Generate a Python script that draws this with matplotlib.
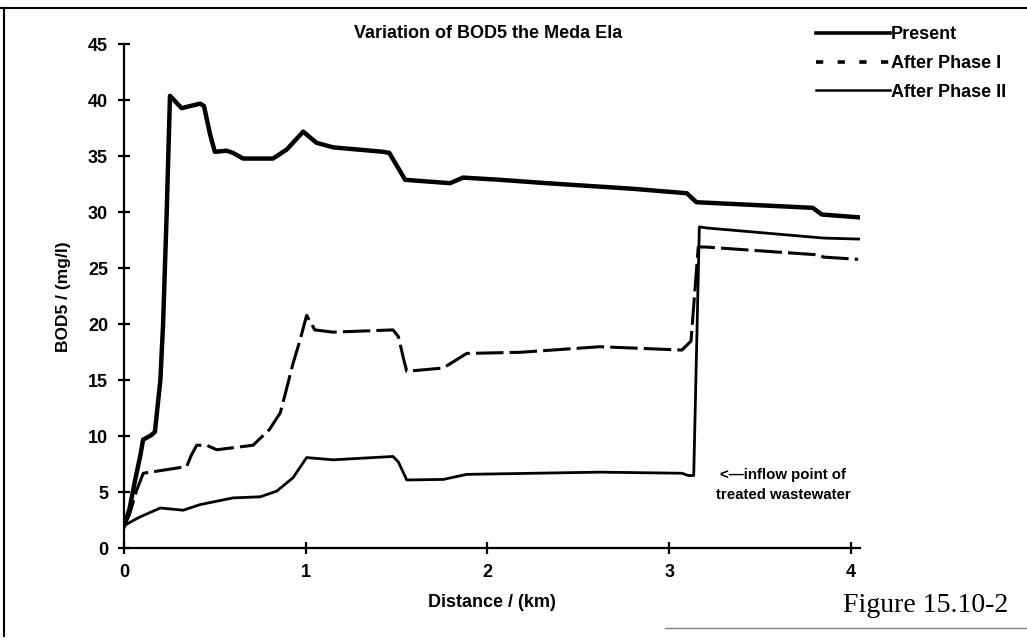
import matplotlib.pyplot as plt
from matplotlib.lines import Line2D
import numpy as np

plt.rcParams["font.family"] = ["Liberation Sans", "DejaVu Sans"]

# Present
x_present = [0.0, 0.03, 0.06, 0.09, 0.105, 0.15, 0.17, 0.2, 0.215, 0.235, 0.253,
             0.317, 0.418, 0.44, 0.473, 0.5, 0.565, 0.6, 0.655, 0.82, 0.895, 0.986,
             1.06, 1.15, 1.427, 1.46, 1.547, 1.794, 1.866, 2.07, 2.326, 2.80, 3.097,
             3.15, 3.79, 3.84, 4.045]
y_present = [2.0, 3.5, 6.0, 8.3, 9.7, 10.1, 10.4, 15.0, 20.0, 30.0, 40.4,
             39.3, 39.7, 39.5, 37.0, 35.4, 35.5, 35.3, 34.8, 34.8, 35.6, 37.2,
             36.2, 35.8, 35.4, 35.3, 32.9, 32.6, 33.1, 32.9, 32.6, 32.1, 31.7,
             30.9, 30.4, 29.8, 29.55]

# After Phase I
x_phase1 = [0.0, 0.03, 0.07, 0.106, 0.345, 0.37, 0.4, 0.455, 0.51, 0.71, 0.80,
            0.86, 0.886, 0.93, 0.969, 1.005, 1.05, 1.15, 1.48, 1.51, 1.54, 1.556,
            1.757, 1.886, 2.18, 2.62, 3.07, 3.12, 3.16, 3.2, 3.82, 3.85, 4.04]
y_phase1 = [2.0, 3.0, 5.2, 6.7, 7.3, 8.3, 9.2, 9.2, 8.8, 9.2, 10.6,
            12.1, 13.7, 16.5, 18.6, 20.8, 19.5, 19.3, 19.5, 18.9, 16.8, 15.8,
            16.1, 17.4, 17.5, 18.0, 17.7, 18.5, 26.9, 26.9, 26.2, 26.0, 25.8]

# After Phase II
x_phase2 = [0.0, 0.03, 0.088, 0.2, 0.326, 0.418, 0.6, 0.75, 0.84, 0.93, 1.005,
            1.15, 1.48, 1.51, 1.556, 1.757, 1.886, 2.62, 3.07, 3.105, 3.135, 3.166,
            3.207, 3.849, 4.065]
y_phase2 = [2.0, 2.3, 2.8, 3.6, 3.4, 3.9, 4.5, 4.6, 5.1, 6.3, 8.1,
            7.9, 8.2, 7.7, 6.1, 6.15, 6.6, 6.8, 6.7, 6.5, 6.5, 28.7,
            28.6, 27.7, 27.6]

fig = plt.figure(figsize=(10.27, 6.40), dpi=100)
ax = fig.add_axes([124 / 1027, 1 - 548.3 / 640, (860 - 124) / 1027, (548.3 - 44.3) / 640])

ax.plot(x_present, y_present, color="black", lw=3.2, solid_joinstyle="round")
ax.plot(x_phase1, y_phase1, color="black", lw=2.2, linestyle=(0, (9, 2)))
ax.plot(x_phase2, y_phase2, color="black", lw=2.0)

ax.set_xlim(0, 4.05)
ax.set_ylim(0, 45)
ax.set_xticks([0, 1, 2, 3, 4])
ax.set_yticks(np.arange(0, 46, 5))
for s in ["top", "right"]:
    ax.spines[s].set_visible(False)
for s in ["left", "bottom"]:
    ax.spines[s].set_linewidth(1.6)
ax.tick_params(direction="inout", length=9, width=1.6, labelsize=13, pad=7)
for lab in ax.get_xticklabels() + ax.get_yticklabels():
    lab.set_fontweight("bold")

ax.set_xlabel("Distance / (km)", fontsize=13, fontweight="bold", labelpad=9)
ax.set_ylabel("BOD5 / (mg/l)", fontsize=12.5, fontweight="bold", labelpad=12)

fig.text(488 / 1027, 1 - 33 / 640, "Variation of BOD5 the Meda Ela", ha="center", va="center",
         fontsize=13, fontweight="bold")

handles = [Line2D([], [], color="black", lw=2.6),
           Line2D([], [], color="black", lw=2.6, linestyle=(0, (2, 4))),
           Line2D([], [], color="black", lw=1.8)]
ax.legend(handles, ["Present", "After Phase I", "After Phase II"], loc="upper left",
          bbox_to_anchor=(800 / 1027, 1 - 10 / 640), bbox_transform=fig.transFigure,
          frameon=False, handlelength=4.1, handletextpad=0.05, labelspacing=0.65,
          prop={"weight": "bold", "size": 13})

fig.text(783 / 1027, 1 - 485 / 640, "<\u2014inflow point of\ntreated wastewater", ha="center",
         va="center", fontsize=10.8, fontweight="bold", linespacing=1.5)

fig.text(843 / 1027, 1 - 605 / 640, "Figure 15.10-2", ha="left", va="center",
         fontsize=20, family=["Liberation Serif", "DejaVu Serif"])

# page frame
fig.add_artist(Line2D([4 / 1027, 4 / 1027], [1 - 636 / 640, 1 - 8 / 640], color="black", lw=1.5))
fig.add_artist(Line2D([0, 1], [1 - 8 / 640, 1 - 8 / 640], color="black", lw=1.5))
fig.add_artist(Line2D([665 / 1027, 1], [1 - 628 / 640, 1 - 628 / 640], color="gray", lw=1.0))

fig.savefig("out.png", dpi=100)
